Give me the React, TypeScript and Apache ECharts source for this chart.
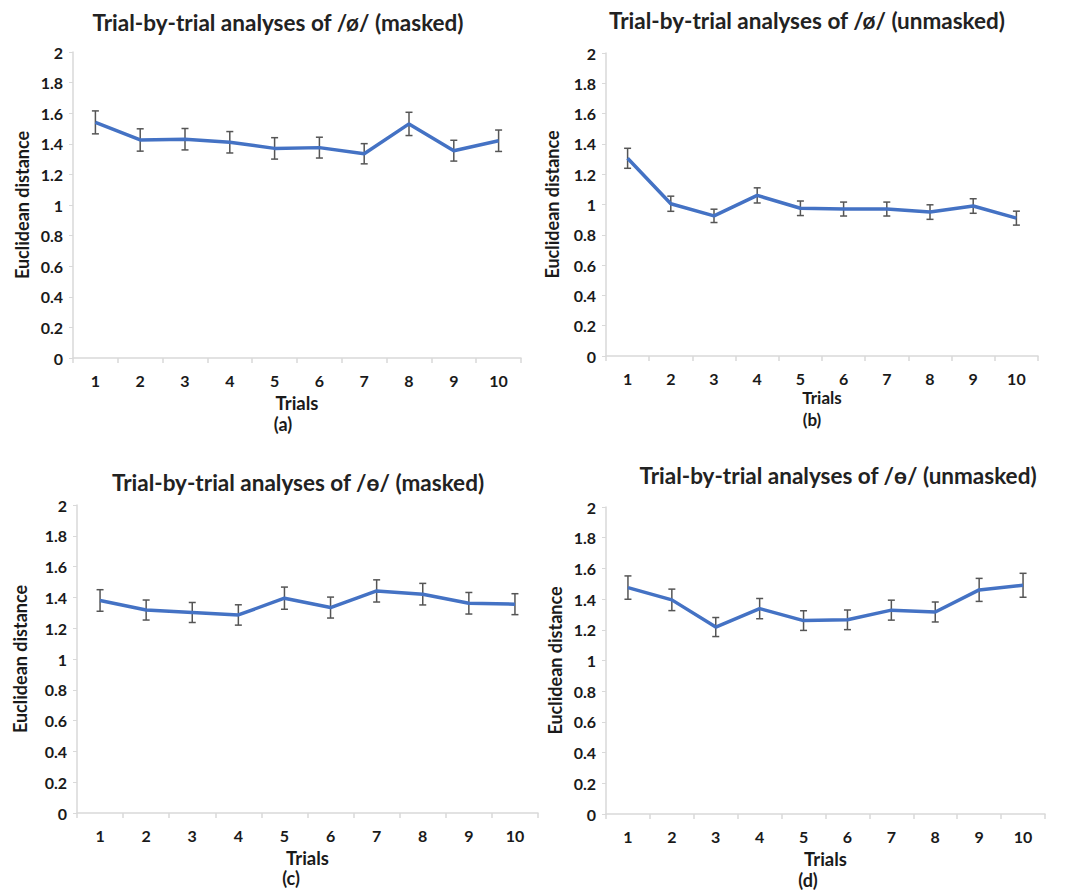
import React, { useEffect, useRef } from "react";
import * as echarts from "echarts";

const trials = ["1", "2", "3", "4", "5", "6", "7", "8", "9", "10"];
const yTicks = [0, 0.2, 0.4, 0.6, 0.8, 1, 1.2, 1.4, 1.6, 1.8, 2];

const titles = [
  "Trial-by-trial analyses of /ø/ (masked)",
  "Trial-by-trial analyses of /ø/ (unmasked)",
  "Trial-by-trial analyses of /ɵ/ (masked)",
  "Trial-by-trial analyses of /ɵ/ (unmasked)",
];
const panelLetters = ["(a)", "(b)", "(c)", "(d)"];

const meanA = [1.54, 1.425, 1.43, 1.41, 1.37, 1.375, 1.335, 1.53, 1.355, 1.42];
const errA = [0.075, 0.073, 0.07, 0.07, 0.07, 0.068, 0.066, 0.076, 0.068, 0.07];
const meanB = [1.305, 1.005, 0.925, 1.06, 0.975, 0.97, 0.97, 0.95, 0.99, 0.91];
const errB = [0.066, 0.05, 0.044, 0.05, 0.048, 0.046, 0.046, 0.048, 0.048, 0.046];
const meanC = [1.38, 1.318, 1.302, 1.286, 1.395, 1.334, 1.442, 1.421, 1.362, 1.356];
const errC = [0.07, 0.065, 0.065, 0.066, 0.072, 0.068, 0.072, 0.07, 0.07, 0.068];
const meanD = [1.475, 1.395, 1.218, 1.338, 1.26, 1.265, 1.328, 1.316, 1.46, 1.49];
const errD = [0.076, 0.07, 0.062, 0.066, 0.064, 0.064, 0.065, 0.065, 0.075, 0.078];

const means = [meanA, meanB, meanC, meanD];
const errs = [errA, errB, errC, errD];

// layout per panel
const grids = [
  { left: 73, top: 52, width: 448, height: 306 },
  { left: 606, top: 53, width: 432, height: 303 },
  { left: 77, top: 505, width: 461, height: 308 },
  { left: 606, top: 507, width: 439, height: 307 },
];
const yNameGaps = [42, 45, 48, 42];
const xNameGaps = [35, 33, 35, 35];
const xNameSizes = [18.5, 17, 18.5, 18.5];
const letterSizes = [18, 17, 18, 18];
const titlePos = [
  { x: 278, y: 22 },
  { x: 807, y: 20 },
  { x: 298, y: 482 },
  { x: 838, y: 475 },
];
const letterPos = [
  { x: 283, y: 424 },
  { x: 812, y: 419 },
  { x: 291, y: 878 },
  { x: 808, y: 880 },
];

const FONT = "Lato, 'Open Sans', sans-serif";
const LINE_BLUE = "#4472C4";
const AXIS_GREY = "#d9d9d9";
const TEXT = "#1a1a1a";

export default function App() {
  const ref = useRef<HTMLDivElement>(null);
  useEffect(() => {
    if (!ref.current) return;
    const chart = echarts.init(ref.current, undefined, { renderer: "svg" });
    const xAxes: any[] = [];
    const yAxes: any[] = [];
    const series: any[] = [];
    const graphics: any[] = [];
    grids.forEach((g, i) => {
      xAxes.push({
        type: "category",
        gridIndex: i,
        data: trials,
        boundaryGap: true,
        name: "Trials",
        nameLocation: "middle",
        nameGap: xNameGaps[i],
        nameTextStyle: { fontFamily: FONT, fontWeight: "bold", fontSize: xNameSizes[i], color: TEXT },
        axisLine: { show: true, lineStyle: { color: AXIS_GREY, width: 1.5 } },
        axisTick: { show: true, length: 5, lineStyle: { color: AXIS_GREY, width: 1.5 } },
        axisLabel: { fontFamily: FONT, fontWeight: "bold", fontSize: 16, color: TEXT, margin: 14 },
        splitLine: { show: false },
      });
      yAxes.push({
        type: "value",
        gridIndex: i,
        min: 0,
        max: 2,
        interval: 0.2,
        name: "Euclidean distance",
        nameLocation: "middle",
        nameGap: yNameGaps[i],
        nameRotate: 90,
        nameTextStyle: { fontFamily: FONT, fontWeight: "bold", fontSize: 18, color: TEXT },
        axisLine: { show: true, lineStyle: { color: AXIS_GREY, width: 1.5 } },
        axisTick: { show: true, length: 4, lineStyle: { color: AXIS_GREY, width: 1 } },
        axisLabel: {
          fontFamily: FONT,
          fontWeight: "bold",
          fontSize: 16,
          color: TEXT,
          margin: 10,
          formatter: (v: number) => {
            const t = yTicks.find((k) => Math.abs(k - v) < 1e-6);
            return t === undefined ? "" : String(Math.round(t * 10) / 10);
          },
        },
        splitLine: { show: false },
      });
      series.push({
        type: "custom",
        xAxisIndex: i,
        yAxisIndex: i,
        z: 2,
        data: means[i].map((m, k) => [k, m - errs[i][k], m + errs[i][k]]),
        renderItem: (params: any, api: any) => {
          const idx = api.value(0);
          const lo = api.coord([idx, api.value(1)]);
          const hi = api.coord([idx, api.value(2)]);
          const cap = 3.5;
          const style = { stroke: "#555", lineWidth: 1.5 };
          return {
            type: "group",
            children: [
              { type: "line", shape: { x1: lo[0], y1: lo[1], x2: hi[0], y2: hi[1] }, style },
              { type: "line", shape: { x1: hi[0] - cap, y1: hi[1], x2: hi[0] + cap, y2: hi[1] }, style },
              { type: "line", shape: { x1: lo[0] - cap, y1: lo[1], x2: lo[0] + cap, y2: lo[1] }, style },
            ],
          };
        },
      });
      series.push({
        type: "line",
        xAxisIndex: i,
        yAxisIndex: i,
        z: 3,
        data: means[i],
        showSymbol: false,
        symbol: "none",
        lineStyle: { color: LINE_BLUE, width: 3.5 },
      });
      graphics.push({
        type: "text",
        x: titlePos[i].x,
        y: titlePos[i].y,
        style: {
          text: titles[i],
          fontFamily: FONT,
          fontWeight: "bold",
          fontSize: 22.5,
          fill: "#222",
          textAlign: "center",
          textVerticalAlign: "middle",
        },
      });
      graphics.push({
        type: "text",
        x: letterPos[i].x,
        y: letterPos[i].y,
        style: {
          text: panelLetters[i],
          fontFamily: FONT,
          fontWeight: "bold",
          fontSize: letterSizes[i],
          fill: TEXT,
          textAlign: "center",
          textVerticalAlign: "middle",
        },
      });
    });
    chart.setOption({
      animation: false,
      backgroundColor: "#fff",
      grid: grids.map((g) => ({ ...g, containLabel: false })),
      xAxis: xAxes,
      yAxis: yAxes,
      series,
      graphic: graphics,
    });
    return () => chart.dispose();
  }, []);
  return (
    <div
      ref={ref}
      style={{ position: "fixed", left: 0, top: 0, width: 1070, height: 892, background: "#fff" }}
    />
  );
}
